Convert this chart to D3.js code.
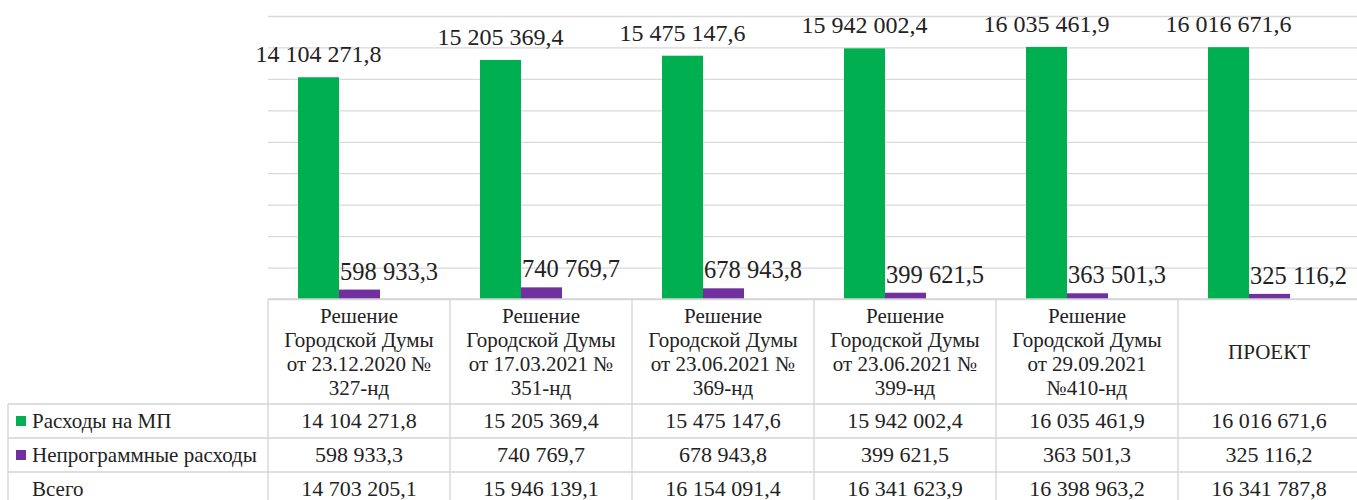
<!DOCTYPE html>
<html>
<head>
<meta charset="utf-8">
<script src="https://cdn.jsdelivr.net/npm/d3@7"></script>
<style>
  html, body { margin: 0; padding: 0; background: #fff; }
</style>
</head>
<body>
<svg id="chart" width="1357" height="500"></svg>
<script>
// ---- data ----
const categories = [
  ["Решение", "Городской Думы", "от 23.12.2020 №", "327-нд"],
  ["Решение", "Городской Думы", "от 17.03.2021 №", "351-нд"],
  ["Решение", "Городской Думы", "от 23.06.2021 №", "369-нд"],
  ["Решение", "Городской Думы", "от 23.06.2021 №", "399-нд"],
  ["Решение", "Городской Думы", "от 29.09.2021", "№410-нд"],
  ["ПРОЕКТ"]
];
const seriesNames = ["Расходы на МП", "Непрограммные расходы", "Всего"];
const mpValues = [14104271.8, 15205369.4, 15475147.6, 15942002.4, 16035461.9, 16016671.6];
const nonProgValues = [598933.3, 740769.7, 678943.8, 399621.5, 363501.3, 325116.2];
const totalValues = [14703205.1, 15946139.1, 16154091.4, 16341623.9, 16398963.2, 16341787.8];
const yTicks = [0, 2000000, 4000000, 6000000, 8000000, 10000000, 12000000, 14000000, 16000000, 18000000];
const colors = ["#00B050", "#7030A0"];

// ---- setup ----
const FONT = "Liberation Serif, DejaVu Serif, serif";
const svg = d3.select("#chart").style("font-family", FONT);
const W = 1357;
const fmt = d3.formatLocale({decimal: ",", thousands: " ", grouping: [3], currency: ["", ""]}).format(",.1f");
const idx = d3.range(categories.length);

const plotTop = 16, plotBottom = 299, gridLeft = 268;
const y = d3.scaleLinear().domain([0, 18000000]).range([plotBottom, plotTop]);
const x = d3.scaleBand().domain(idx).range([248, 1340])
  .paddingInner(100 / 182).paddingOuter(50 / 182);
const xs = d3.scaleBand().domain([0, 1]).range([0, x.bandwidth()]);

// gridlines
const grid = svg.append("g").attr("transform", `translate(${gridLeft},0)`)
  .call(d3.axisLeft(y).tickValues(yTicks).tickSize(-(W - gridLeft)).tickFormat(""));
grid.select(".domain").remove();
grid.selectAll(".tick line").attr("stroke", "#d9d9d9").attr("stroke-width", 1.3);

// bars
const seriesData = [mpValues, nonProgValues];
seriesData.forEach((vals, s) => {
  svg.append("g").selectAll("rect").data(idx).join("rect")
    .attr("x", i => x(i) + xs(s))
    .attr("width", xs.bandwidth())
    .attr("y", i => y(vals[i]))
    .attr("height", i => y(0) - y(vals[i]))
    .attr("fill", colors[s]);
});

// data labels
svg.append("g").selectAll("text").data(idx).join("text")
  .style("font-family", FONT)
  .attr("x", i => x(i) + xs(0) + xs.bandwidth() / 2)
  .attr("y", i => y(mpValues[i]) - 15)
  .attr("text-anchor", "middle")
  .attr("font-size", 24)
  .attr("fill", "#222")
  .text(i => fmt(mpValues[i]));
svg.append("g").selectAll("text").data(idx).join("text")
  .style("font-family", FONT)
  .attr("x", i => x(i) + xs(1) + 1)
  .attr("y", i => y(nonProgValues[i]) - 10)
  .attr("text-anchor", "start")
  .attr("font-size", 24.5)
  .attr("fill", "#222")
  .text(i => fmt(nonProgValues[i]));

// ---- data table ----
const tx = d3.scaleBand().domain(idx).range([268, 1360]);
const headerTop = 299, headerBottom = 404, rowH = 34;
const rowY = d3.scaleBand().domain([0, 1, 2]).range([headerBottom, headerBottom + 3 * rowH]);
const tableLeft = 8;
const tbl = svg.append("g");
const lineColor = "#d4d4d4";

// horizontal lines
tbl.append("line").attr("x1", tx.range()[0]).attr("x2", W).attr("y1", headerTop).attr("y2", headerTop)
  .attr("stroke", lineColor).attr("stroke-width", 1.3);
[0, 1, 2].forEach(r => {
  tbl.append("line").attr("x1", tableLeft).attr("x2", W)
    .attr("y1", rowY(r)).attr("y2", rowY(r))
    .attr("stroke", lineColor).attr("stroke-width", 1.3);
});
// vertical lines
tbl.append("line").attr("x1", tableLeft).attr("x2", tableLeft).attr("y1", headerBottom).attr("y2", 500)
  .attr("stroke", lineColor).attr("stroke-width", 1.3);
idx.concat([idx.length]).forEach(i => {
  const xx = i < idx.length ? tx(i) : tx(idx.length - 1) + tx.bandwidth();
  tbl.append("line").attr("x1", xx).attr("x2", xx).attr("y1", headerTop).attr("y2", 500)
    .attr("stroke", lineColor).attr("stroke-width", 1.3);
});

// header text
idx.forEach(i => {
  const lines = categories[i];
  const lh = 24;
  const cy = (headerTop + headerBottom) / 2;
  const first = cy - (lines.length - 1) * lh / 2 + 7;
  const t = tbl.append("text").style("font-family", FONT)
    .attr("text-anchor", "middle").attr("font-size", 21).attr("fill", "#222");
  lines.forEach((ln, k) => {
    t.append("tspan").attr("x", tx(i) + tx.bandwidth() / 2).attr("y", first + k * lh).text(ln);
  });
});

// row labels + legend keys
const rowValues = [mpValues, nonProgValues, totalValues];
rowValues.forEach((vals, r) => {
  const baseY = rowY(r) + rowY.bandwidth() / 2 + 7;
  if (r < 2) {
    tbl.append("rect").attr("x", 16).attr("y", rowY(r) + rowY.bandwidth() / 2 - 5)
      .attr("width", 10).attr("height", 10).attr("fill", colors[r]);
  }
  tbl.append("text").style("font-family", FONT).attr("x", 32).attr("y", baseY)
    .attr("font-size", 21).attr("fill", "#222").text(seriesNames[r]);
  tbl.append("g").selectAll("text").data(idx).join("text")
    .style("font-family", FONT)
    .attr("x", i => tx(i) + tx.bandwidth() / 2)
    .attr("y", baseY)
    .attr("text-anchor", "middle")
    .attr("font-size", 22)
    .attr("fill", "#222")
    .text(i => fmt(vals[i]));
});
</script>
</body>
</html>
